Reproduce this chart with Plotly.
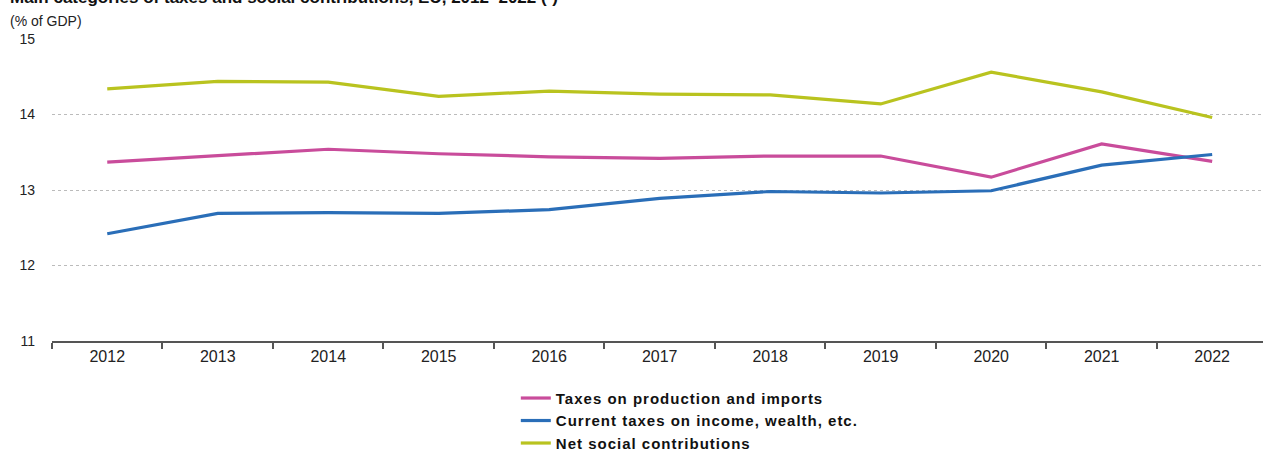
import plotly.graph_objects as go

# Years on the category axis
years = ["2012", "2013", "2014", "2015", "2016", "2017", "2018", "2019", "2020", "2021", "2022"]

# Shares of GDP (%)
taxes_production_imports = [13.37, 13.45, 13.54, 13.48, 13.44, 13.42, 13.45, 13.45, 13.17, 13.61, 13.38]
current_taxes_income = [12.42, 12.69, 12.70, 12.69, 12.74, 12.89, 12.98, 12.96, 12.99, 13.33, 13.47]
net_social_contributions = [14.34, 14.44, 14.43, 14.24, 14.31, 14.27, 14.26, 14.14, 14.56, 14.30, 13.96]

series_names = [
    "Taxes on production and imports",
    "Current taxes on income, wealth, etc.",
    "Net social contributions",
]
series_colors = ["#C94C9B", "#2A6EB8", "#B9C31F"]
y_ticks = [11, 12, 13, 14, 15]

title_text = "Main categories of taxes and social contributions, EU, 2012\u20132022 (\u00b9)"
unit_text = "(% of GDP)"

fig = go.Figure()
for name, values, color in zip(
    series_names,
    [taxes_production_imports, current_taxes_income, net_social_contributions],
    series_colors,
):
    fig.add_trace(
        go.Scatter(
            x=years,
            y=values,
            name=name,
            mode="lines",
            line=dict(color=color, width=3.2),
        )
    )

fig.update_layout(
    width=1263,
    height=450,
    margin=dict(l=52, r=0, t=39, b=109, autoexpand=False),
    paper_bgcolor="white",
    plot_bgcolor="white",
    font=dict(family="Liberation Sans, Arial, sans-serif", color="#222222"),
    showlegend=True,
    legend=dict(
        x=0.383,
        y=-0.135,
        xanchor="left",
        yanchor="top",
        orientation="v",
        traceorder="normal",
        font=dict(size=15, color="#111111", weight="bold"),
        tracegroupgap=0,
        itemwidth=30,
        bgcolor="rgba(0,0,0,0)",
    ),
    xaxis=dict(
        type="category",
        categoryorder="array",
        categoryarray=years,
        range=[-0.5, 10.46],
        showgrid=False,
        showline=True,
        linecolor="#555555",
        linewidth=2,
        ticks="outside",
        tickson="boundaries",
        ticklen=6,
        tickwidth=1.5,
        tickcolor="#555555",
        tickfont=dict(size=16, color="#222222"),
        zeroline=False,
        automargin=False,
    ),
    yaxis=dict(
        range=[11, 15],
        tickvals=y_ticks,
        ticktext=[str(v) for v in y_ticks],
        showgrid=True,
        gridcolor="#BBBBBB",
        gridwidth=1,
        griddash="dot",
        showline=False,
        zeroline=False,
        ticks="",
        ticklabelstandoff=16,
        tickfont=dict(size=14, color="#222222"),
        automargin=False,
    ),
    annotations=[
        dict(
            text="<b>" + title_text + "</b>",
            xref="paper",
            yref="paper",
            x=-0.036,
            y=1.10,
            xanchor="left",
            yanchor="bottom",
            showarrow=False,
            font=dict(size=17, color="#111111"),
        ),
        dict(
            text=unit_text,
            xref="paper",
            yref="paper",
            x=-0.036,
            y=1.06,
            xanchor="left",
            yanchor="middle",
            showarrow=False,
            font=dict(size=14, color="#222222"),
        ),
    ],
)

# Slightly spaced-out legend lettering; the legend's clip box is lifted so
# the wider labels are not trimmed.
legend_spacing_js = """
var gd = document.getElementsByClassName('plotly-graph-div')[0];
function spaceLegend() {
  gd.querySelectorAll('.legendtext').forEach(function (t) {
    t.style.letterSpacing = '1px';
  });
  gd.querySelectorAll('.legend [clip-path]').forEach(function (g) {
    g.removeAttribute('clip-path');
  });
}
spaceLegend();
gd.on('plotly_afterplot', spaceLegend);
"""

fig.write_html("out.html", post_script=legend_spacing_js)
